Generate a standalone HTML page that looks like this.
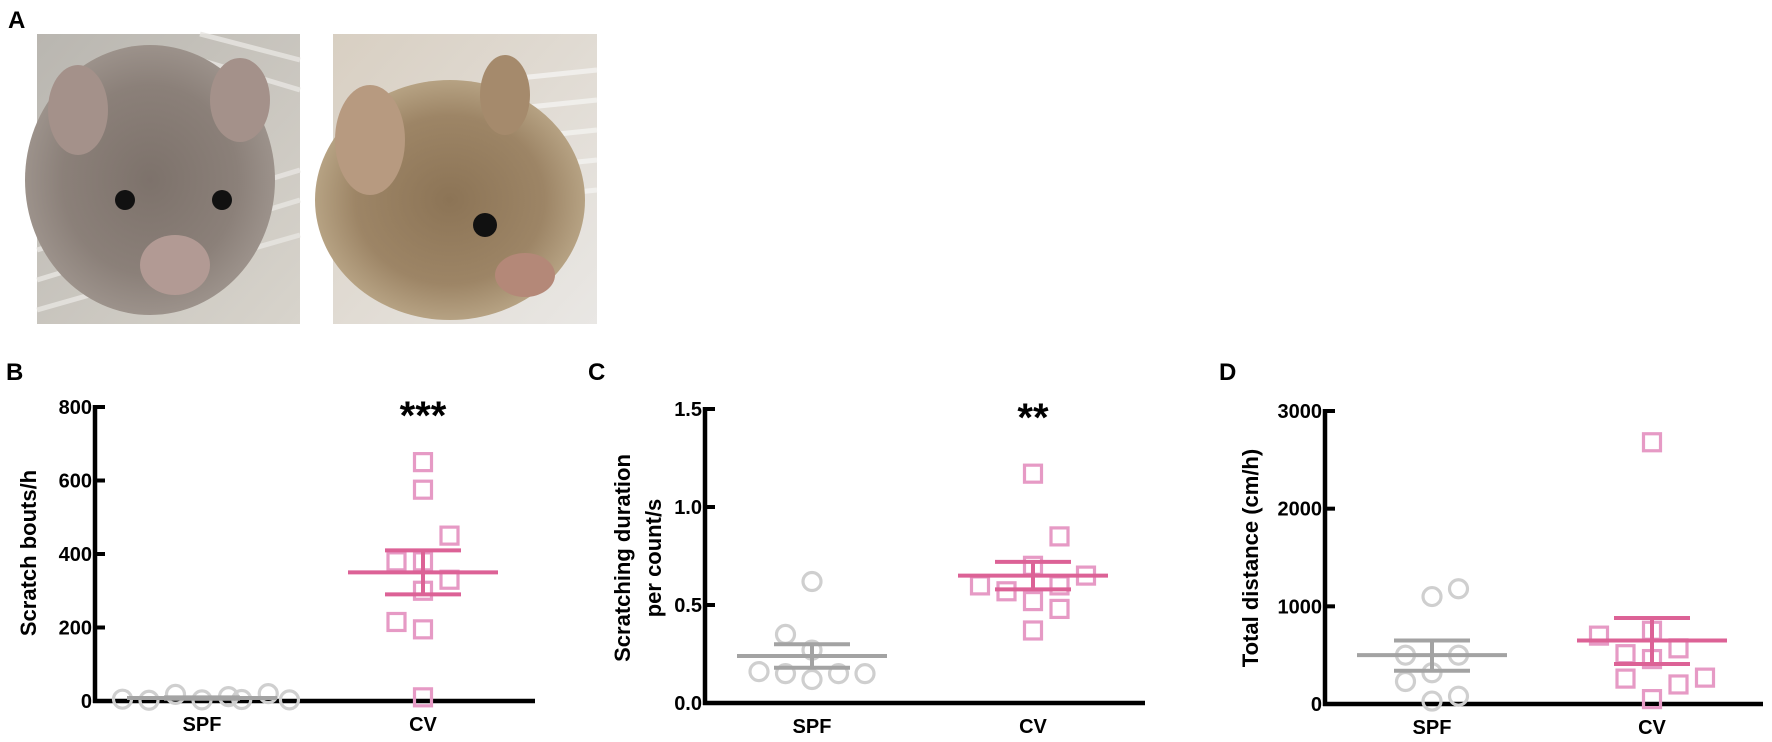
<!DOCTYPE html>
<html><head><meta charset="utf-8">
<style>
html,body{margin:0;padding:0;background:#fff;}
body{width:1772px;height:742px;position:relative;overflow:hidden;font-family:"Liberation Sans",Arial,sans-serif;}
svg{position:absolute;left:0;top:0;}
</style></head>
<body>
<svg id="fig" width="1772" height="742" viewBox="0 0 1772 742">
  <defs>
    <radialGradient id="m1" cx="0.5" cy="0.5" r="0.5">
      <stop offset="0" stop-color="#7d726b"/><stop offset="0.7" stop-color="#8b8079"/><stop offset="1" stop-color="#9c928b"/>
    </radialGradient>
    <linearGradient id="bg1" x1="0" y1="0" x2="1" y2="1">
      <stop offset="0" stop-color="#b9b6b0"/><stop offset="1" stop-color="#d8d4cc"/>
    </linearGradient>
    <radialGradient id="m2" cx="0.5" cy="0.5" r="0.5">
      <stop offset="0" stop-color="#8c7456"/><stop offset="0.7" stop-color="#9d8566"/><stop offset="1" stop-color="#b6a283"/>
    </radialGradient>
    <linearGradient id="bg2" x1="0" y1="0" x2="1" y2="1">
      <stop offset="0" stop-color="#d8cfc2"/><stop offset="1" stop-color="#e9e7e4"/>
    </linearGradient>
  </defs>
  <text x="8" y="28" font-size="24" font-weight="bold">A</text>
  <g>
    <rect x="37" y="34" width="263" height="290" fill="url(#bg1)"/>
    <g stroke="#e8e6e2" stroke-width="5" opacity="0.8">
      <line x1="37" y1="250" x2="300" y2="170"/><line x1="37" y1="280" x2="300" y2="200"/><line x1="37" y1="310" x2="300" y2="235"/><line x1="200" y1="34" x2="300" y2="60"/><line x1="200" y1="60" x2="300" y2="90"/>
    </g>
    <ellipse cx="150" cy="180" rx="125" ry="135" fill="url(#m1)"/>
    <ellipse cx="78" cy="110" rx="30" ry="45" fill="#a4918a"/>
    <ellipse cx="240" cy="100" rx="30" ry="42" fill="#a4918a"/>
    <circle cx="125" cy="200" r="10" fill="#111"/><circle cx="222" cy="200" r="10" fill="#111"/>
    <ellipse cx="175" cy="265" rx="35" ry="30" fill="#b29a94"/>
  </g>
  <g>
    <rect x="333" y="34" width="264" height="290" fill="url(#bg2)"/>
    <g stroke="#f2f1ee" stroke-width="5" opacity="0.9">
      <line x1="500" y1="80" x2="597" y2="70"/><line x1="500" y1="110" x2="597" y2="100"/><line x1="500" y1="140" x2="597" y2="130"/><line x1="500" y1="170" x2="597" y2="160"/><line x1="500" y1="200" x2="597" y2="190"/>
    </g>
    <ellipse cx="450" cy="200" rx="135" ry="120" fill="url(#m2)"/>
    <ellipse cx="370" cy="140" rx="35" ry="55" fill="#b79a80"/>
    <ellipse cx="505" cy="95" rx="25" ry="40" fill="#a58a6c"/>
    <circle cx="485" cy="225" r="12" fill="#111"/>
    <ellipse cx="525" cy="275" rx="30" ry="22" fill="#b48878"/>
  </g>
  <text x="6" y="380" font-size="24" font-weight="bold">B</text>
  <text x="588" y="380" font-size="24" font-weight="bold">C</text>
  <text x="1219" y="380" font-size="24" font-weight="bold">D</text>
</svg>
<script>
// ---------- data ----------
const groups = ["SPF", "CV"];
// Panel B: scratch bouts/h
const bSpf = [5, 2, 18, 3, 12, 4, 20, 3];
const bCv = [650, 575, 450, 380, 380, 330, 300, 215, 195, 10];
const bMean = [8, 350];
const bSemHi = [10, 410];
const bSemLo = [6, 290];
const bTicks = [0, 200, 400, 600, 800];
const bTickLabels = ["0", "200", "400", "600", "800"];
// Panel C: scratching duration per count/s
const cSpf = [0.62, 0.35, 0.27, 0.16, 0.15, 0.12, 0.15, 0.15];
const cCv = [1.17, 0.85, 0.70, 0.60, 0.57, 0.60, 0.65, 0.52, 0.48, 0.37];
const cMean = [0.24, 0.65];
const cSemHi = [0.30, 0.72];
const cSemLo = [0.18, 0.58];
const cTicks = [0, 0.5, 1.0, 1.5];
const cTickLabels = ["0.0", "0.5", "1.0", "1.5"];
// Panel D: total distance (cm/h)
const dSpf = [1180, 1100, 500, 500, 320, 230, 80, 30];
const dCv = [2680, 700, 750, 570, 510, 460, 260, 200, 270, 50];
const dMean = [500, 650];
const dSemHi = [650, 880];
const dSemLo = [340, 410];
const dTicks = [0, 1000, 2000, 3000];
const dTickLabels = ["0", "1000", "2000", "3000"];

// jitter slots (layout only, in units of marker spacing)
const bSpfJit = [-3, -2, -1, 0, 1, 1.5, 2.5, 3.3];
const bCvJit = [0, 0, 1, -1, 0, 1, 0, -1, 0, 0];
const cSpfJit = [0, -1, 0, -2, -1, 0, 1, 2];
const cCvJit = [0, 1, 0, -2, -1, 1, 2, 0, 1, 0];
const dSpfJit = [1, 0, -1, 1, 0, -1, 1, 0];
const dCvJit = [0, -2, 0, 1, -1, 0, -1, 1, 2, 0];

const NS = "http://www.w3.org/2000/svg";
const svg = document.getElementById("fig");
function mk(tag, attrs, parent) {
  const e = document.createElementNS(NS, tag);
  for (const k in attrs) e.setAttribute(k, attrs[k]);
  (parent || svg).appendChild(e);
  return e;
}

function panel(cfg) {
  const g = mk("g", {});
  
  
  const y = v => cfg.y0 - (v - cfg.min) / (cfg.max - cfg.min) * (cfg.y0 - cfg.y1);
  const x = i => cfg.xg[i];
  // axes
  const ya = mk("line", {x1: cfg.ax, y1: cfg.y1 - 2, x2: cfg.ax, y2: cfg.y0 + 2, stroke: "#000", "stroke-width": 4.5}, g);
  
  
  const xa = mk("line", {x1: cfg.ax - 2, y1: cfg.y0, x2: cfg.xend, y2: cfg.y0, stroke: "#000", "stroke-width": 4.5}, g);
  
  
  cfg.ticks.forEach((t, i) => {
    const tl = mk("line", {x1: cfg.ax, y1: y(t), x2: cfg.ax + 10, y2: y(t), stroke: "#000", "stroke-width": 4}, g);
    
    
    const tx = mk("text", {x: cfg.ax - 3, y: y(t) + 7, "text-anchor": "end", "font-size": 20, "font-weight": "bold"}, g);
    tx.textContent = cfg.tickLabels[i];
    
    
  });
  groups.forEach((gn, i) => {
    const t = mk("text", {x: x(i), y: cfg.y0 + 30, "text-anchor": "middle", "font-size": 20, "font-weight": "bold"}, g);
    t.textContent = gn;
    
    
  });
  // y title
  const tt = mk("text", {transform: `translate(${cfg.tx},${cfg.ty}) rotate(-90)`, "text-anchor": "middle", "font-size": 22, "font-weight": "bold"}, g);
  
  
  cfg.title.forEach((line, k) => {
    const ts = mk("tspan", {x: 0, dy: k === 0 ? 0 : 31}, tt);
    ts.textContent = line;
  });
  // SPF circles
  cfg.spf.forEach((v, i) => {
    const c = mk("circle", {cx: x(0) + cfg.spfJit[i] * 26.5, cy: y(v), r: 9, fill: "none", stroke: "#cfcfcf", "stroke-width": 3.2}, g);
    
    
  });
  // CV squares
  cfg.cv.forEach((v, i) => {
    const s = mk("rect", {x: x(1) + cfg.cvJit[i] * 26.5 - 8.5, y: y(v) - 8.5, width: 17, height: 17, fill: "none", stroke: "#e69ac5", "stroke-width": 3.2}, g);
    
    
  });
  // mean + SEM
  const cols = ["#a3a3a3", "#dc6296"];
  [0, 1].forEach(i => {
    const cx = x(i), col = cols[i];
    const m = mk("line", {x1: cx - 75, x2: cx + 75, y1: y(cfg.mean[i]), y2: y(cfg.mean[i]), stroke: col, "stroke-width": 4}, g);
    
    
    const v = mk("line", {x1: cx, x2: cx, y1: y(cfg.hi[i]), y2: y(cfg.lo[i]), stroke: col, "stroke-width": 4}, g);
    
    
    [cfg.hi[i], cfg.lo[i]].forEach(val => {
      const cap = mk("line", {x1: cx - 38, x2: cx + 38, y1: y(val), y2: y(val), stroke: col, "stroke-width": 4}, g);
      
      
    });
  });
  if (cfg.stars) {
    const st = mk("text", {x: x(1), y: cfg.y1 + 22, "text-anchor": "middle", "font-size": 40, "font-weight": "bold"}, g);
    st.textContent = cfg.stars;
    
    
  }
}

panel({name: "chart-scratch-bouts", ax: 95, xend: 535, xg: [202, 423], y0: 701, y1: 407, min: 0, max: 800,
  ticks: bTicks, tickLabels: bTickLabels, title: ["Scratch bouts/h"], tx: 36, ty: 553,
  spf: bSpf, cv: bCv, spfJit: bSpfJit, cvJit: bCvJit, mean: bMean, hi: bSemHi, lo: bSemLo, stars: "***"});
panel({name: "chart-scratch-duration", ax: 705, xend: 1145, xg: [812, 1033], y0: 703, y1: 409, min: 0, max: 1.5,
  ticks: cTicks, tickLabels: cTickLabels, title: ["Scratching duration", "per count/s"], tx: 630, ty: 558,
  spf: cSpf, cv: cCv, spfJit: cSpfJit, cvJit: cCvJit, mean: cMean, hi: cSemHi, lo: cSemLo, stars: "**"});
panel({name: "chart-total-distance", ax: 1325, xend: 1763, xg: [1432, 1652], y0: 704, y1: 411, min: 0, max: 3000,
  ticks: dTicks, tickLabels: dTickLabels, title: ["Total distance (cm/h)"], tx: 1258, ty: 558,
  spf: dSpf, cv: dCv, spfJit: dSpfJit, cvJit: dCvJit, mean: dMean, hi: dSemHi, lo: dSemLo, stars: ""});
</script>
</body></html>
